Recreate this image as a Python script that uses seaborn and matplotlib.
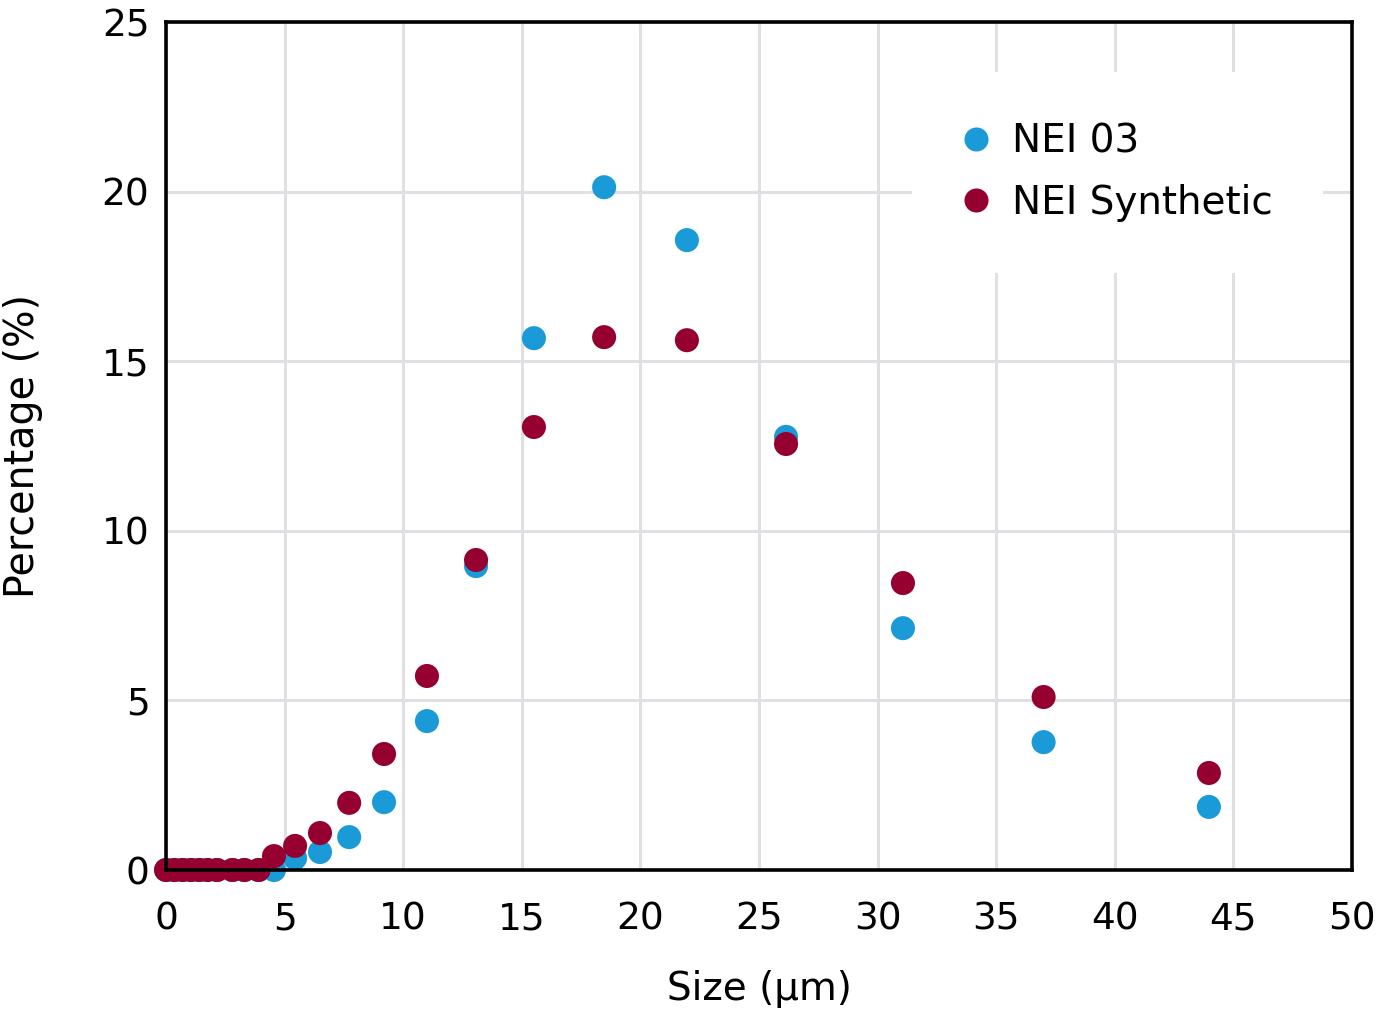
import matplotlib
matplotlib.use("Agg")
import matplotlib.pyplot as plt
import seaborn as sns
import pandas as pd

sizes = [0.0, 0.35, 0.7, 1.05, 1.4, 1.75, 2.15, 2.8, 3.3, 3.9,
         4.55, 5.44, 6.49, 7.72, 9.19, 11.0, 13.07, 15.51, 18.47, 21.96,
         26.14, 31.07, 37.0, 43.97]
nei03 = [0, 0, 0, 0, 0, 0, 0, 0, 0, 0,
         0.0, 0.35, 0.53, 0.97, 2.0, 4.39, 8.96, 15.68, 20.13, 18.57,
         12.77, 7.13, 3.77, 1.86]
nei_syn = [0, 0, 0, 0, 0, 0, 0, 0, 0, 0,
           0.41, 0.71, 1.09, 1.98, 3.42, 5.72, 9.14, 13.06, 15.71, 15.62,
           12.56, 8.46, 5.10, 2.86]
series_names = ["NEI 03", "NEI Synthetic"]
colors = ["#1a9bd7", "#960030"]

df = pd.DataFrame({
    "size": sizes * 2,
    "pct": nei03 + nei_syn,
    "series": [series_names[0]] * len(sizes) + [series_names[1]] * len(sizes),
})

sns.set_style("white")
plt.rcParams["font.family"] = ["DejaVu Sans"]
plt.rcParams["text.color"] = "black"
plt.rcParams["axes.labelcolor"] = "black"
plt.rcParams["xtick.color"] = "black"
plt.rcParams["ytick.color"] = "black"

fig = plt.figure(figsize=(13.77, 10.16), dpi=100)
ax = fig.add_axes([0.1206, 0.1437, 0.8612, 0.8346])

sns.scatterplot(data=df, x="size", y="pct", hue="series", palette=colors,
                hue_order=series_names, s=300, edgecolor="none", linewidth=0,
                ax=ax, zorder=3, clip_on=False)

ax.set_xlim(0, 50)
ax.set_ylim(0, 25)
ax.set_xticks(range(0, 51, 5))
ax.set_yticks(range(0, 26, 5))
ax.grid(True, color="#e0e0e4", linewidth=2.2)
ax.set_axisbelow(True)
for sp in ax.spines.values():
    sp.set_color("black")
    sp.set_linewidth(2.6)
    sp.set_zorder(4)
ax.tick_params(axis="both", direction="out", length=6, width=2.4, color="black",
               labelcolor="black", labelsize=27)
ax.tick_params(axis="x", pad=17)
ax.tick_params(axis="y", pad=6)
ax.set_xlabel("Size (µm)", fontsize=28, labelpad=23, color="black")
ax.set_ylabel("Percentage (%)", fontsize=28.5, labelpad=42, color="black")

leg = ax.legend(loc="upper left", bbox_to_anchor=(0.629, 0.941),
                borderaxespad=0, fontsize=28, frameon=True, framealpha=1,
                edgecolor="white", fancybox=False, handlelength=0.7,
                handletextpad=0.56, borderpad=1.3, markerscale=1.0,
                labelspacing=0.6)
leg.get_frame().set_linewidth(0)
for t in leg.get_texts():
    t.set_color("black")

fig.savefig("out.png", dpi=100)
